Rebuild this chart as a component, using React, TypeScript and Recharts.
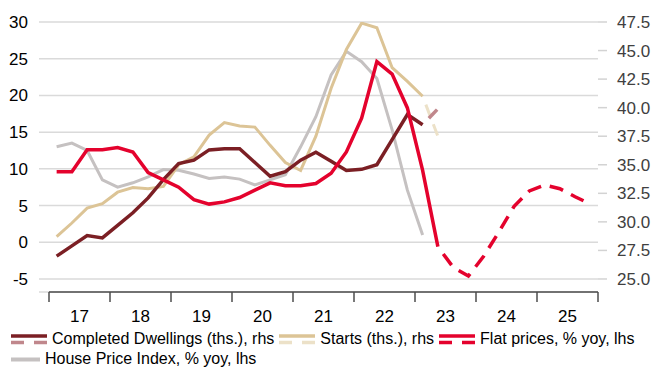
import { LineChart, Line, XAxis, YAxis, CartesianGrid, ReferenceLine } from 'recharts'

// quarterly data, first point = 2017Q1
const firstYear = 17
const nQuarters = 36

// Flat prices, % yoy (lhs)
const flatPrices = [9.6, 9.6, 12.6, 12.6, 12.9, 12.3, 9.5, 8.5, 7.5, 5.8, 5.2, 5.5, 6.1, 7.1, 8.1, 7.7, 7.7, 8.0, 9.4, 12.3, 16.9, 24.6, 22.9, 18.3, 9.8, -0.6]
const flatPricesFcstStart = 25
const flatPricesFcst = [-0.6, -3.4, -4.6, -1.9, 1.4, 4.9, 7.0, 7.8, 7.3, 6.2, 5.2]

// House Price Index, % yoy (lhs)
const housePriceIndex = [13.0, 13.5, 12.5, 8.5, 7.5, 8.1, 8.9, 9.9, 9.8, 9.3, 8.7, 8.9, 8.6, 7.8, 8.5, 9.2, 13.0, 17.1, 22.8, 26.0, 24.6, 22.3, 15.3, 7.1, 1.0]

// Completed Dwellings (ths.), rhs
const completed = [27.0, 27.9, 28.8, 28.6, 29.7, 30.8, 32.1, 33.7, 35.1, 35.4, 36.3, 36.4, 36.4, 35.2, 34.0, 34.4, 35.4, 36.1, 35.3, 34.5, 34.6, 35.0, 37.2, 39.4, 38.5]
const completedFcstStart = 24
const completedFcst = [38.5, 39.9]

// Starts (ths.), rhs
const starts = [28.7, 29.9, 31.2, 31.6, 32.6, 33.0, 32.9, 33.1, 35.0, 35.7, 37.6, 38.7, 38.4, 38.3, 36.7, 35.2, 34.5, 37.5, 41.7, 45.1, 47.4, 47.0, 43.5, 42.3, 41.0]
const startsFcstStart = 24
const startsFcst = [41.0, 37.5]

const lhsTicks = [-5, 0, 5, 10, 15, 20, 25, 30]
const rhsTicks = [25, 27.5, 30, 32.5, 35, 37.5, 40, 42.5, 45, 47.5]
const yearTicks = [17, 17.5, 18, 18.5, 19, 19.5, 20, 20.5, 21, 21.5, 22, 22.5, 23, 23.5, 24, 24.5, 25, 25.5, 26]

const lhsMin = -6.77
const rhsMin = 23.86

const pick = (arr: number[], start: number, i: number) =>
  i >= start && i - start < arr.length ? arr[i - start] : null

const data = Array.from({ length: nQuarters }, (_, i) => ({
  x: firstYear + (i + 0.5) / 4,
  flat: pick(flatPrices, 0, i),
  flatF: pick(flatPricesFcst, flatPricesFcstStart, i),
  hpi: pick(housePriceIndex, 0, i),
  done: pick(completed, 0, i),
  doneF: pick(completedFcst, completedFcstStart, i),
  starts: pick(starts, 0, i),
  startsF: pick(startsFcst, startsFcstStart, i),
}))

const FONT = '"Liberation Sans", Arial, sans-serif'

function YearTick({ x, y, payload }: { x?: number; y?: number; payload?: { value: number } }) {
  const v = payload?.value ?? 0
  if (Number.isInteger(v)) {
    return <line x1={x} x2={x} y1={y} y2={(y ?? 0) + 10} stroke="#4d4d4d" strokeWidth={1.5} />
  }
  return (
    <text x={x} y={(y ?? 0) + 24} textAnchor="middle" dominantBaseline="central" fontSize={17} fill="#000" fontFamily={FONT}>
      {Math.floor(v)}
    </text>
  )
}

function LegendIcon({ color, dashColor, width = 36 }: { color: string; dashColor?: string; width?: number }) {
  return (
    <svg width={width} height={11} style={{ marginRight: 5, flex: 'none', display: 'block' }}>
      <line x1={0} x2={width} y1={dashColor ? 2 : 5.5} y2={dashColor ? 2 : 5.5} stroke={color} strokeWidth={dashColor ? 3.5 : 4} />
      {dashColor && (
        <line x1={0} x2={width} y1={8.5} y2={8.5} stroke={dashColor} strokeWidth={3.5} strokeDasharray="13 10" />
      )}
    </svg>
  )
}

function Legend() {
  const row = { position: 'absolute' as const, left: 11, display: 'flex', alignItems: 'center', height: 18, whiteSpace: 'nowrap' as const }
  const item = { display: 'flex', alignItems: 'center', marginRight: 5 }
  return (
    <div style={{ fontFamily: FONT, fontSize: 16, color: '#000', lineHeight: '18px' }}>
      <div style={{ ...row, top: 330 }}>
        <div style={item}><LegendIcon color="#7b1f24" dashColor="#c0878c" />Completed Dwellings (ths.), rhs</div>
        <div style={item}><LegendIcon color="#dcc496" dashColor="#ece1c8" />Starts (ths.), rhs</div>
        <div style={item}><LegendIcon color="#e4022d" dashColor="#e4022d" />Flat prices, % yoy, lhs</div>
      </div>
      <div style={{ ...row, top: 350 }}>
        <div style={item}><LegendIcon color="#c5c1c1" width={29} />House Price Index, % yoy, lhs</div>
      </div>
    </div>
  )
}

export default function App() {
  return (
    <div style={{ position: 'absolute', top: 0, left: 0, width: 656, height: 367, background: '#fff' }}>
      <LineChart width={656} height={367} data={data} margin={{ top: 22, right: 0, bottom: 35, left: 0 }}>
        <CartesianGrid yAxisId="lhs" vertical={false} stroke="#dadada" strokeWidth={1.5} />
        <XAxis
          dataKey="x"
          type="number"
          domain={[16.836, 26]}
          ticks={yearTicks}
          interval={0}
          tick={<YearTick />}
          tickLine={false}
          axisLine={false}
          tickSize={0}
          tickMargin={0}
          height={40}
          allowDataOverflow
        />
        <YAxis
          yAxisId="lhs"
          orientation="left"
          domain={[lhsMin, 30]}
          ticks={lhsTicks}
          interval={0}
          width={39}
          axisLine={false}
          tickLine={false}
          tickSize={6}
          tickMargin={5}
          tick={{ fontSize: 17, fill: '#000', fontFamily: FONT }}
          allowDataOverflow
        />
        <YAxis
          yAxisId="rhs"
          orientation="right"
          domain={[rhsMin, 47.5]}
          ticks={rhsTicks}
          interval={0}
          width={58}
          axisLine={false}
          tickLine={{ stroke: '#d3d3d3', strokeWidth: 1.5 }}
          tickSize={9}
          tickMargin={10}
          tickFormatter={(v: number) => v.toFixed(1)}
          tick={{ fontSize: 17, fill: '#404040', fontFamily: FONT }}
          allowDataOverflow
        />
        <ReferenceLine
          yAxisId="lhs"
          segment={[{ x: 17, y: lhsMin }, { x: 26, y: lhsMin }]}
          stroke="#4d4d4d"
          strokeWidth={1.5}
        />
        <Line yAxisId="lhs" dataKey="hpi" stroke="#c5c1c1" strokeWidth={3} dot={false} isAnimationActive={false} />
        <Line yAxisId="rhs" dataKey="starts" stroke="#dcc496" strokeWidth={3} dot={false} isAnimationActive={false} />
        <Line yAxisId="rhs" dataKey="startsF" stroke="#ece1c8" strokeWidth={3} strokeDasharray="12 9" strokeDashoffset={12} dot={false} isAnimationActive={false} />
        <Line yAxisId="rhs" dataKey="done" stroke="#7b1f24" strokeWidth={3.5} dot={false} isAnimationActive={false} />
        <Line yAxisId="rhs" dataKey="doneF" stroke="#c0878c" strokeWidth={3.5} strokeDasharray="12 9" strokeDashoffset={12} dot={false} isAnimationActive={false} />
        <Line yAxisId="lhs" dataKey="flat" stroke="#e4022d" strokeWidth={3.5} dot={false} isAnimationActive={false} />
        <Line yAxisId="lhs" dataKey="flatF" stroke="#e4022d" strokeWidth={3.5} strokeDasharray="14 9" strokeDashoffset={14} dot={false} isAnimationActive={false} />
      </LineChart>
      <Legend />
    </div>
  )
}
